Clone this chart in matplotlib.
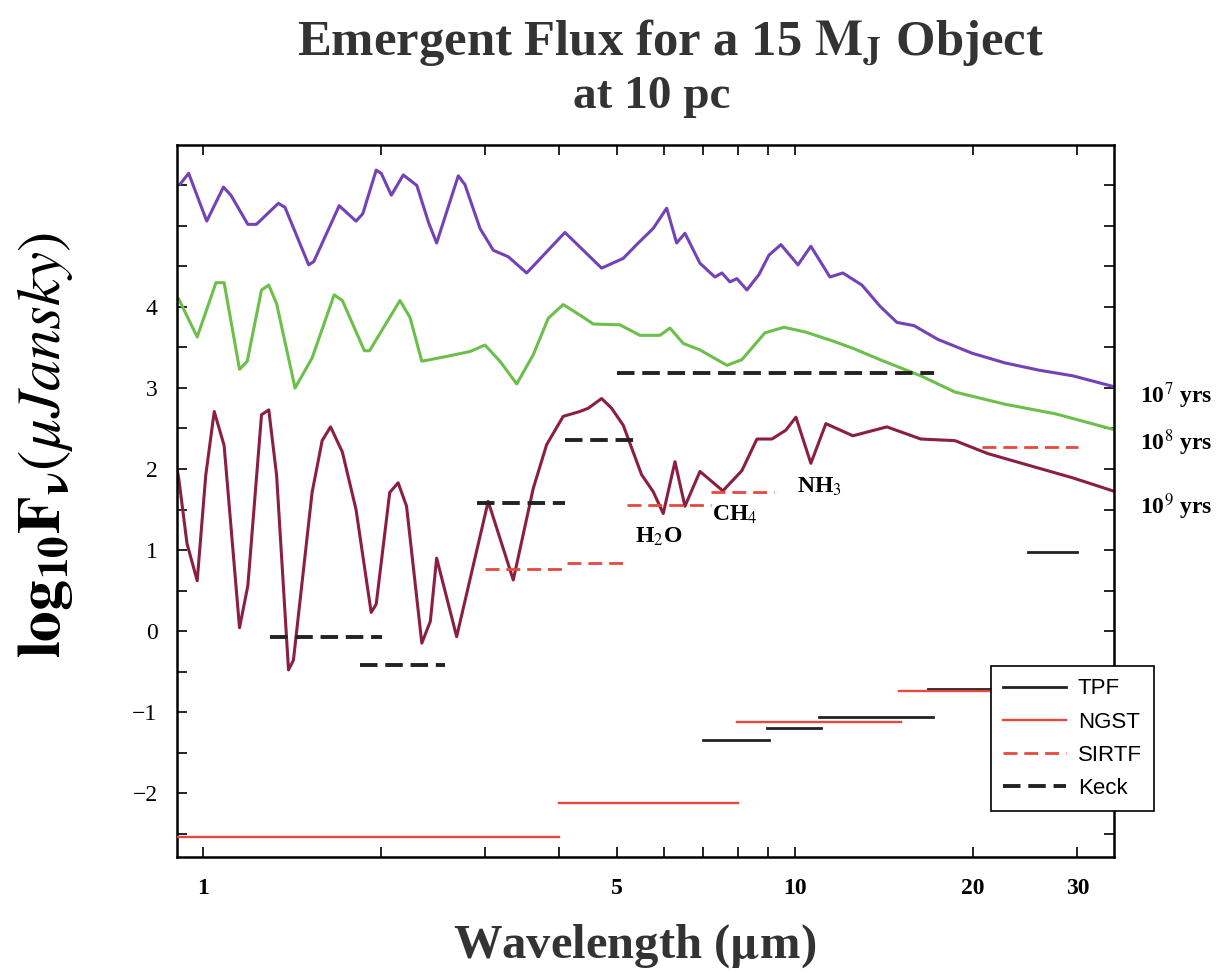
import numpy as np
import matplotlib.pyplot as plt
from matplotlib.ticker import FixedLocator, NullFormatter

plt.rcParams['font.family'] = ['Liberation Serif', 'DejaVu Serif']
plt.rcParams['mathtext.fontset'] = 'stix'

# model spectra (wavelength in micron, log10 F_nu in microJansky)
wl_1e7 = [0.916, 0.946, 1.015, 1.083, 1.115, 1.191, 1.231, 1.341, 1.376, 1.509,
          1.539, 1.699, 1.814, 1.862, 1.962, 2.001, 2.081, 2.180, 2.298, 2.406,
          2.482, 2.700, 2.771, 2.938, 3.094, 3.280, 3.523, 4.088, 4.715, 5.129,
          5.403, 5.763, 6.073, 6.313, 6.520, 6.912, 7.326, 7.528, 7.767, 7.980,
          8.297, 8.695, 9.039, 9.471, 10.12, 10.64, 11.46, 12.05, 12.98, 13.92,
          14.87, 15.89, 17.44, 19.91, 22.63, 25.84, 29.49, 34.44]
flux_1e7 = [5.52, 5.65, 5.06, 5.48, 5.38, 5.02, 5.02, 5.28, 5.23, 4.52,
            4.56, 5.25, 5.06, 5.15, 5.69, 5.65, 5.38, 5.63, 5.50, 5.04,
            4.79, 5.62, 5.51, 4.97, 4.70, 4.62, 4.42, 4.92, 4.48, 4.60,
            4.77, 4.97, 5.22, 4.79, 4.91, 4.54, 4.37, 4.42, 4.31, 4.35,
            4.21, 4.40, 4.64, 4.77, 4.52, 4.75, 4.37, 4.42, 4.27, 4.01,
            3.81, 3.77, 3.60, 3.43, 3.31, 3.22, 3.15, 3.02]

wl_1e8 = [0.910, 0.978, 1.052, 1.086, 1.153, 1.188, 1.256, 1.292, 1.332, 1.431,
          1.529, 1.666, 1.720, 1.874, 1.912, 2.152, 2.238, 2.343, 2.581, 2.825,
          2.995, 3.176, 3.389, 3.614, 3.831, 4.061, 4.334, 4.564, 5.063, 5.474,
          5.916, 6.150, 6.479, 6.912, 7.677, 8.137, 8.897, 9.581, 10.43, 11.59,
          12.53, 13.92, 16.32, 18.64, 22.63, 27.60, 34.44]
flux_1e8 = [4.10, 3.63, 4.30, 4.30, 3.23, 3.33, 4.21, 4.27, 4.04, 3.00,
            3.37, 4.15, 4.08, 3.46, 3.46, 4.08, 3.87, 3.33, 3.39, 3.45,
            3.53, 3.33, 3.05, 3.41, 3.86, 4.03, 3.90, 3.79, 3.78, 3.65,
            3.65, 3.74, 3.55, 3.47, 3.28, 3.35, 3.68, 3.75, 3.69, 3.58,
            3.49, 3.35, 3.15, 2.95, 2.80, 2.68, 2.49]

wl_1e9 = [0.904, 0.910, 0.940, 0.978, 1.011, 1.045, 1.086, 1.153, 1.191, 1.256,
          1.292, 1.332, 1.395, 1.422, 1.529, 1.590, 1.643, 1.720, 1.814, 1.924,
          1.962, 2.068, 2.137, 2.208, 2.343, 2.422, 2.482, 2.683, 3.033, 3.344,
          3.614, 3.807, 4.061, 4.334, 4.476, 4.715, 4.902, 5.129, 5.508, 5.763,
          5.992, 6.272, 6.520, 6.912, 7.557, 8.137, 8.627, 9.145, 9.656, 10.04,
          10.64, 11.28, 12.53, 14.30, 16.32, 18.64, 21.18, 24.17, 29.49, 34.44]
flux_1e9 = [2.00, 1.89, 1.08, 0.62, 1.92, 2.71, 2.29, 0.04, 0.56, 2.67,
            2.73, 1.92, -0.48, -0.36, 1.71, 2.35, 2.52, 2.21, 1.50, 0.23,
            0.33, 1.71, 1.83, 1.54, -0.15, 0.12, 0.90, -0.07, 1.60, 0.63,
            1.76, 2.30, 2.65, 2.71, 2.75, 2.87, 2.75, 2.54, 1.93, 1.72,
            1.45, 2.09, 1.54, 1.97, 1.73, 1.98, 2.37, 2.37, 2.48, 2.64,
            2.07, 2.56, 2.41, 2.52, 2.37, 2.35, 2.19, 2.07, 1.89, 1.73]

# instrument sensitivities: (start wavelength, end wavelength, log10 F_nu)
tpf = [(6.99, 9.04, -1.34), (8.96, 11.07, -1.20), (11.0, 17.1, -1.06),
       (16.8, 25.0, -0.72), (24.8, 30.0, 0.98)]
ngst = [(0.90, 4.0, -2.54), (4.0, 8.0, -2.12), (7.98, 15.1, -1.12),
        (15.0, 25.0, -0.74)]
sirtf = [(3.0, 4.12, 0.77), (4.12, 5.22, 0.84), (5.2, 7.21, 1.56),
         (7.21, 9.21, 1.72), (20.7, 30.06, 2.27)]
keck = [(1.30, 2.01, -0.07), (1.84, 2.56, -0.42), (2.90, 4.09, 1.58),
        (4.09, 5.37, 2.36), (5.0, 17.2, 3.18)]

ages = ['10$^7$ yrs', '10$^8$ yrs', '10$^9$ yrs']
age_label_y = [2.91, 2.32, 1.53]

molecules = ['H$_2$O', 'CH$_4$', 'NH$_3$']
mol_x = [5.89, 7.92, 11.02]
mol_y = [1.16, 1.44, 1.78]

purple = '#7442b8'
green = '#6cbf4a'
maroon = '#8a1f42'
red = '#e8483c'

fig = plt.figure(figsize=(12.23, 9.73), dpi=100)
ax = fig.add_axes([0.1447, 0.1192, 0.7662, 0.7318])

ax.plot(wl_1e7, flux_1e7, color=purple, lw=2.2, zorder=2)
ax.plot(wl_1e8, flux_1e8, color=green, lw=2.2, zorder=2)
ax.plot(wl_1e9, flux_1e9, color=maroon, lw=2.2, zorder=2)

for i, (a, b, v) in enumerate(tpf):
    ax.plot([a, b], [v, v], color='#222222', lw=2.0, zorder=3,
            label='TPF' if i == 0 else None)
for i, (a, b, v) in enumerate(ngst):
    ax.plot([a, b], [v, v], color=red, lw=1.7, zorder=3,
            label='NGST' if i == 0 else None)
for i, (a, b, v) in enumerate(sirtf):
    ax.plot([a, b], [v, v], color=red, lw=2.0, dashes=(5, 2.5), zorder=3,
            label='SIRTF' if i == 0 else None)
for i, (a, b, v) in enumerate(keck):
    ax.plot([a, b], [v, v], color='#222222', lw=2.8, dashes=(4.5, 2), zorder=4,
            label='Keck' if i == 0 else None)

for txt, x, y in zip(molecules, mol_x, mol_y):
    ax.text(x, y, txt, fontsize=17, fontweight='bold', ha='center', va='center')

trans = ax.get_yaxis_transform()
for txt, y in zip(ages, age_label_y):
    ax.text(1.028, y, txt, transform=trans, fontsize=17, fontweight='bold',
            va='center', ha='left', clip_on=False)

ax.set_xscale('log')
ax.set_xlim(0.904, 34.6)
ax.set_ylim(-2.79, 6.0)

ax.xaxis.set_major_locator(FixedLocator([1, 5, 10, 20, 30]))
ax.xaxis.set_minor_locator(FixedLocator([2, 3, 4, 6, 7, 8, 9]))
ax.xaxis.set_minor_formatter(NullFormatter())
ax.set_xticklabels(['1', '5', '10', '20', '30'], fontsize=17, fontweight='bold')

ax.yaxis.set_major_locator(FixedLocator([-2, -1, 0, 1, 2, 3, 4]))
ax.yaxis.set_minor_locator(FixedLocator(np.arange(-2.5, 6.0, 0.5)))
ax.set_yticklabels(['\u22122', '\u22121', '0', '1', '2', '3', '4'], fontsize=17)

ax.tick_params(which='both', direction='in', top=True, right=True,
               length=7, width=1.2)
ax.tick_params(axis='y', pad=14)
ax.tick_params(axis='x', pad=15)
for s in ax.spines.values():
    s.set_linewidth(1.8)

leg = ax.legend(loc='upper left', bbox_to_anchor=(0.869, 0.268),
                borderaxespad=0, frameon=True, fancybox=False,
                prop={'family': 'Liberation Sans', 'size': 16},
                handlelength=2.8, handletextpad=0.55, labelspacing=0.55,
                borderpad=0.55)
leg.get_frame().set_edgecolor('black')
leg.get_frame().set_linewidth(1.2)
leg.get_frame().set_alpha(1)
leg.set_zorder(10)

fig.text(0.548, 0.955, r'Emergent Flux for a 15 $\mathbf{M_J}$ Object',
         fontsize=36.5, fontweight='bold', ha='center', va='center', color='#333333')
fig.text(0.533, 0.900, 'at 10 pc', fontsize=34, fontweight='bold',
         ha='center', va='center', color='#333333')
fig.text(0.519, 0.028, r'Wavelength ($\mathbf{\mu}$m)', fontsize=35,
         fontweight='bold', ha='center', va='center', color='#333333')
fig.text(0.037, 0.543, r'$\mathbf{log_{10}F_{\nu}}(\mu \mathit{Jansky})$',
         fontsize=44, rotation=90, ha='center', va='center')

fig.savefig('out.png', dpi=100)
